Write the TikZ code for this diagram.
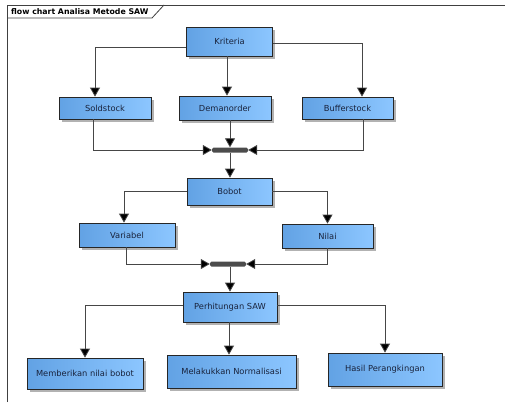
\documentclass[tikz,border=0pt]{standalone}
\usepackage{fontspec}
\setmainfont{DejaVu Sans}
\usetikzlibrary{arrows.meta,shadows}

\definecolor{boxdark}{RGB}{98,162,228}
\definecolor{boxlight}{RGB}{140,198,255}
\definecolor{linegrey}{RGB}{70,70,70}
\definecolor{boxtext}{RGB}{25,35,60}

\tikzstyle{box}=[rectangle,draw=black!85,line width=0.8pt,left color=boxdark,right color=boxlight,
  text=boxtext,font=\fontsize{8.3}{10}\selectfont,inner sep=2pt,
  drop shadow={shadow xshift=2.5pt,shadow yshift=-2.5pt,fill=black!30,opacity=1}]
\tikzstyle{joinbar}=[rectangle,rounded corners=1.5pt,fill=black!70,minimum width=36pt,minimum height=5pt,inner sep=0pt]
\tikzstyle{flow}=[draw,line width=0.8pt,color=linegrey,-{Triangle[width=10pt,length=9pt,fill=black]}]

\begin{document}
\begin{tikzpicture}[x=1pt,y=-1pt]
			\useasboundingbox (0,0) rectangle (505,402);
			% frame with title tab
			\draw[line width=1pt,black!75] (7,402) -- (7,5) -- (505,5);
			\draw[line width=0.8pt,black!75] (7,18) -- (152,18) -- (164,5);
			\node[anchor=west,inner sep=0pt,font=\bfseries\fontsize{7.8}{9}\selectfont] (title) at (11,11.5) {flow chart Analisa Metode SAW};
			% boxes
			\node[box,minimum width=86pt,minimum height=29pt] (kriteria) at (229.5,41.5) {Kriteria};
			\node[box,minimum width=92pt,minimum height=22pt] (soldstock) at (105,108) {Soldstock};
			\node[box,minimum width=92pt,minimum height=24pt] (demanorder) at (225,108) {Demanorder};
			\node[box,minimum width=91pt,minimum height=22pt] (bufferstock) at (347.5,108) {Bufferstock};
			\node[joinbar] (join1) at (230,150) {};
			\node[box,minimum width=85pt,minimum height=27pt] (bobot) at (229.5,191.5) {Bobot};
			\node[box,minimum width=96pt,minimum height=24pt] (variabel) at (127,235) {Variabel};
			\node[box,minimum width=91pt,minimum height=24pt] (nilai) at (327.5,236) {Nilai};
			\node[joinbar] (join2) at (228,264) {};
			\node[box,minimum width=94pt,minimum height=30pt] (saw) at (230,307) {Perhitungan SAW};
			\node[box,minimum width=116pt,minimum height=31pt] (memberi) at (85,373.5) {Memberikan nilai bobot};
			\node[box,minimum width=129pt,minimum height=33pt] (normal) at (231.5,371.5) {Melakukkan Normalisasi};
			\node[box,minimum width=114pt,minimum height=33pt] (hasil) at (385,369.5) {Hasil Perangkingan};
			% Kriteria to the three inputs
			\path[flow] ([yshift=-5.5pt]kriteria.west) -| ([xshift=-10pt]soldstock.north);
			\path[flow] ([xshift=-2.5pt]kriteria.south) -- ([xshift=-2.5pt]kriteria.south |- demanorder.north);
			\path[flow] ([yshift=-1.5pt]kriteria.east) -| ([xshift=14.5pt]bufferstock.north);
			% inputs into first join
			\path[flow] ([xshift=-12pt]soldstock.south) |- (join1.west);
			\path[flow] (join1.north |- demanorder.south) -- (join1.north);
			\path[flow] ([xshift=15.5pt]bufferstock.south) |- (join1.east);
			\path[flow] (join1.south) -- (join1.south |- bobot.north);
			% Bobot
			\path[flow] (bobot.west) -| ([xshift=-3pt]variabel.north);
			\path[flow] (bobot.east) -| (nilai.north);
			\path[flow] ([xshift=-1pt]variabel.south) |- (join2.west);
			\path[flow] (nilai.south) |- (join2.east);
			\path[flow] (saw.north |- join2.south) -- (saw.north);
			% Perhitungan SAW
			\path[flow] ([yshift=2pt]saw.west) -| (memberi.north);
			\path[flow] ([xshift=-1pt]saw.south) -- ([xshift=-1pt]saw.south |- normal.north);
			\path[flow] ([yshift=2pt]saw.east) -| (hasil.north);
		\end{tikzpicture}
\end{document}
